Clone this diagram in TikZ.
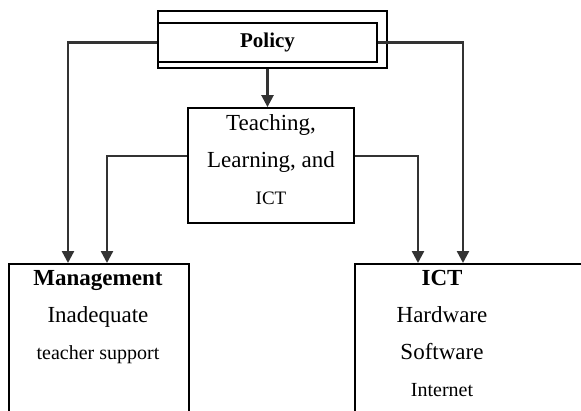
\documentclass[tikz,border=0pt]{standalone}
\usepackage{fontspec}
\setmainfont{Liberation Serif}
\usetikzlibrary{arrows.meta}

\tikzset{
    box/.style={draw=black, line width=1.8pt, inner sep=0pt},
    boxtext/.style={align=center, inner sep=0pt, anchor=north, font=\fontsize{23}{37}\selectfont},
    arr/.style={draw=black!80, line width=2.4pt, -{Triangle[length=12pt,width=12pt]}}
}

\begin{document}
\begin{tikzpicture}[x=1pt,y=-1pt]
    \useasboundingbox (0,0) rectangle (581,410);
    \clip (0,0) rectangle (581,410);

    % policy, drawn as a double frame
    \node[box, minimum width=229pt, minimum height=57pt] (policy) at (272.5,39.5) {};
    \node[box, minimum width=219pt, minimum height=39pt, font=\fontsize{21}{24}\selectfont\bfseries] (policyin) at (267.5,42.5) {Policy};

    % middle box
    \node[box, minimum width=166pt, minimum height=115pt] (teach) at (271,165.5) {};
    \node[boxtext] (teachtxt) at (271,114) {Teaching,\\ Learning, and\\ {\fontsize{19}{37}\selectfont ICT}};

    % bottom boxes run off the page
    \node[box, anchor=north west, minimum width=180pt, minimum height=200pt] (mgmt) at (8,263) {};
    \node[boxtext] (mgmttxt) at (98,270) {\bfseries Management\\ Inadequate\\ {\fontsize{20}{37}\selectfont teacher support}};

    \node[box, anchor=north west, minimum width=260pt, minimum height=200pt] (ict) at (354,263) {};
    \node[boxtext] (icttxt) at (442,270) {\bfseries ICT\\ Hardware\\ Software\\ {\fontsize{20}{37}\selectfont Internet}};

    % connectors
    \draw[arr] (policy.south -| policyin.south) -- (policyin.south |- teach.north);
    \draw[arr] (policyin.west) -| ([xshift=60pt]mgmt.north west);
    \draw[arr] (policyin.east) -| ([xshift=109pt]ict.north west);
    \draw[arr] (teach.west |- 0,156) -| ([xshift=99pt]mgmt.north west);
    \draw[arr] (teach.east |- 0,156) -| ([xshift=64pt]ict.north west);

\end{tikzpicture}
\end{document}
